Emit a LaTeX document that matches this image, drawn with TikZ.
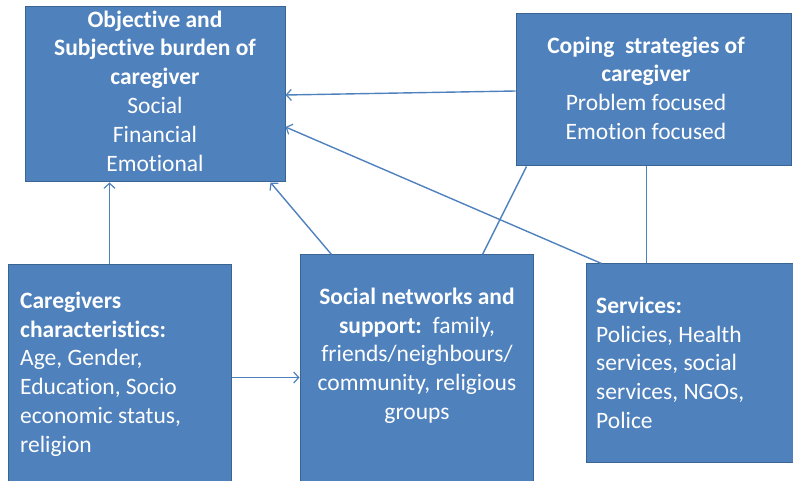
\documentclass[tikz,border=0pt]{standalone}
\usepackage{fontspec}
\setmainfont[Ligatures=NoCommon]{Carlito}
\usetikzlibrary{arrows.meta,calc}
\definecolor{boxfill}{HTML}{4F81BD}
\definecolor{boxline}{HTML}{3A6492}
\definecolor{conn}{HTML}{4F81BD}
\newcommand{\fs}{\rule{0pt}{20pt}}
\tikzset{
  box/.style={draw=boxline, fill=boxfill, line width=1pt, rectangle, inner sep=0pt},
  txt/.style={text=white, inner sep=0pt, font=\fontsize{23.5}{28.8}\selectfont},
  conline/.style={draw=conn, line width=1.4pt},
  arr/.style={conline, -{Straight Barb[length=5pt,width=11pt,line width=1.2pt]}}
}
\begin{document}
\begin{tikzpicture}[x=1pt,y=-1pt]
\useasboundingbox (0,0) rectangle (793,481);
% boxes
\node[box, minimum width=260pt, minimum height=175pt] (A) at (155,94.5) {};
\node[box, minimum width=275pt, minimum height=152pt] (B) at (653.5,90) {};
\node[box, minimum width=223pt, minimum height=220pt] (C) at (119.5,375) {};
\node[box, minimum width=233pt, minimum height=230pt] (D) at (416.5,370) {};
\node[box, minimum width=209pt, minimum height=198pt] (E) at (690.5,363) {};
% texts
\node[txt, align=center, anchor=north] (tA) at (155,7) {\fs\textbf{Objective and}\\
  \textbf{Subjective burden of}\\ \textbf{caregiver}\\ Social\\ Financial\\ Emotional};
\node[txt, align=center, anchor=north] (tB) at (646,33) {\fs\textbf{Coping\ \ strategies of}\\
  \textbf{caregiver}\\ Problem focused\\ Emotion focused};
\node[txt, align=left, anchor=north west] (tC) at (20,288) {\fs\textbf{Caregivers}\\
  \textbf{characteristics:}\\ Age, Gender,\\ Education, Socio\\ economic status,\\ religion};
\node[txt, align=center, anchor=north] (tD) at (417,284) {\fs\textbf{Social networks and}\\
  \textbf{support:}\ \ family,\\ friends/neighbours/\\ community, religious\\ groups};
\node[txt, align=left, anchor=north west] (tE) at (596,293) {\fs\textbf{Services:}\\
  Policies, Health\\ services, social\\ services, NGOs,\\ Police};
% connectors
\draw[arr] ([xshift=102pt]C.north west) coordinate (c1) -- (c1 |- A.south);
\draw[arr] ([yshift=-2.5pt]C.east) coordinate (c2) -- (c2 -| D.west);
\draw[arr] ([xshift=32pt]D.north west) -- ([xshift=-15pt]A.south east);
\draw[conline] ([xshift=183pt]D.north west) -- ([xshift=11pt]B.south west);
\draw[arr] ([xshift=16pt]E.north west) -- ([yshift=-32.5pt]A.east);
\draw[arr] ([yshift=-1pt]B.west) -- ([yshift=-0.5pt]A.east);
\draw[conline] ([xshift=61pt]E.north west) coordinate (c7) -- (c7 |- B.south);
\end{tikzpicture}
\end{document}
